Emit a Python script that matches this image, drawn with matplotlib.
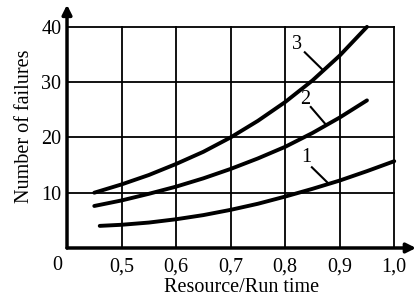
import matplotlib.pyplot as plt

plt.rcParams['font.family'] = ['Liberation Serif', 'DejaVu Serif']

# curve 1
x1 = [0.46, 0.5, 0.55, 0.6, 0.65, 0.7, 0.75, 0.8, 0.85, 0.9, 0.95, 1.0]
y1 = [4.0, 4.2, 4.6, 5.2, 5.95, 6.9, 8.0, 9.3, 10.7, 12.2, 13.9, 15.7]
# curve 2
x2 = [0.45, 0.5, 0.55, 0.6, 0.65, 0.7, 0.75, 0.8, 0.85, 0.9, 0.95]
y2 = [7.6, 8.6, 9.8, 11.1, 12.6, 14.3, 16.2, 18.3, 20.8, 23.6, 26.7]
# curve 3
x3 = [0.45, 0.5, 0.55, 0.6, 0.65, 0.7, 0.75, 0.8, 0.85, 0.9, 0.95]
y3 = [10.0, 11.5, 13.2, 15.2, 17.4, 20.0, 23.0, 26.4, 30.3, 34.8, 40.0]

xticks = [0.5, 0.6, 0.7, 0.8, 0.9, 1.0]
xtick_labels = ['0,5', '0,6', '0,7', '0,8', '0,9', '1,0']
yticks = [10, 20, 30, 40]

fs = 14.5

fig = plt.figure(figsize=(4.17, 2.97), dpi=100)
ax = fig.add_axes([0.1607, 0.165, 0.837, 0.819])
ax.set_xlim(0.4, 1.04)
ax.set_ylim(0, 44)
for s in ax.spines.values():
    s.set_visible(False)

# grid
for xv in xticks:
    ax.plot([xv, xv], [0, 40], color='black', lw=1.3, zorder=1)
for yv in yticks:
    ax.plot([0.4, 1.0], [yv, yv], color='black', lw=1.3, zorder=1)

# axes with arrows
ax.annotate('', xy=(1.04, 0), xytext=(0.4, 0),
            arrowprops=dict(arrowstyle='-|>', lw=2.5, color='black',
                            mutation_scale=14, shrinkA=0, shrinkB=0),
            annotation_clip=False)
ax.annotate('', xy=(0.4, 44), xytext=(0.4, 0),
            arrowprops=dict(arrowstyle='-|>', lw=2.5, color='black',
                            mutation_scale=14, shrinkA=0, shrinkB=0),
            annotation_clip=False)

for xs, ys in [(x1, y1), (x2, y2), (x3, y3)]:
    ax.plot(xs, ys, color='black', lw=2.8, solid_capstyle='round',
            solid_joinstyle='round', zorder=3)

# curve labels with leader lines
ax.text(0.821, 36.9, '3', fontsize=fs, ha='center', va='center')
ax.plot([0.836, 0.867], [35.4, 32.4], color='black', lw=1.5)
ax.text(0.836, 26.8, '2', fontsize=fs, ha='center', va='center')
ax.plot([0.847, 0.874], [25.5, 22.4], color='black', lw=1.5)
ax.text(0.838, 16.3, '1', fontsize=fs, ha='center', va='center')
ax.plot([0.849, 0.878], [14.6, 11.8], color='black', lw=1.5)

ax.set_xticks(xticks)
ax.set_xticklabels(xtick_labels, fontsize=fs)
ax.set_yticks(yticks)
ax.set_yticklabels([str(v) for v in yticks], fontsize=fs)
ax.tick_params(axis='x', length=0, pad=7)
ax.tick_params(axis='y', length=0, pad=4)
ax.text(0.383, -1.4, '0', fontsize=fs, ha='center', va='top')

ax.set_xlabel('Resource/Run time', fontsize=fs, labelpad=1)
ax.set_ylabel('Number of failures', fontsize=fs, labelpad=5)

fig.savefig('out.png', dpi=100)
